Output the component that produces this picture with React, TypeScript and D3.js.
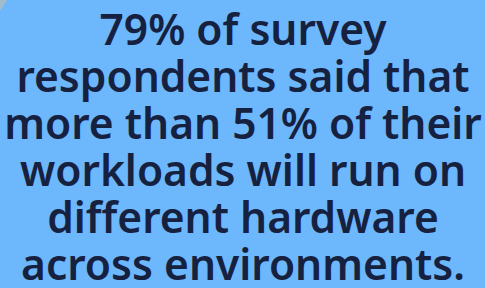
import React, { useEffect, useRef } from 'react';
import * as d3 from 'd3';

// text lines of the statistic card
const lines = [
  '79% of survey',
  'respondents said that',
  'more than 51% of their',
  'workloads will run on',
  'different hardware',
  'across environments.',
];

const W = 485;
const H = 288;

export default function App() {
  const ref = useRef<SVGSVGElement>(null);

  useEffect(() => {
    const svg = d3.select(ref.current);
    svg.selectAll('*').remove();

    svg.append('rect').attr('width', W).attr('height', H).attr('fill', '#6db7fc');

    // little corner fold at the top left
    svg.append('path').attr('d', 'M0,0 L7,0 L0,11 Z').attr('fill', '#a3bccb');

    const y = d3.scalePoint<number>()
      .domain(d3.range(lines.length))
      .range([45, 280]);

    svg.append('g')
      .selectAll('text')
      .data(lines)
      .enter()
      .append('text')
      .attr('x', W / 2 + 0.5)
      .attr('y', (d, i) => y(i))
      .attr('text-anchor', 'middle')
      .attr('font-family', '"Noto Sans", sans-serif')
      .attr('font-weight', 600)
      .attr('font-size', 42.5)
      .attr('fill', '#16213f')
      .text(d => d);
  }, []);

  return (
    <svg
      ref={ref}
      width={W}
      height={H}
      style={{ position: 'absolute', left: 0, top: 0, display: 'block' }}
    />
  );
}
